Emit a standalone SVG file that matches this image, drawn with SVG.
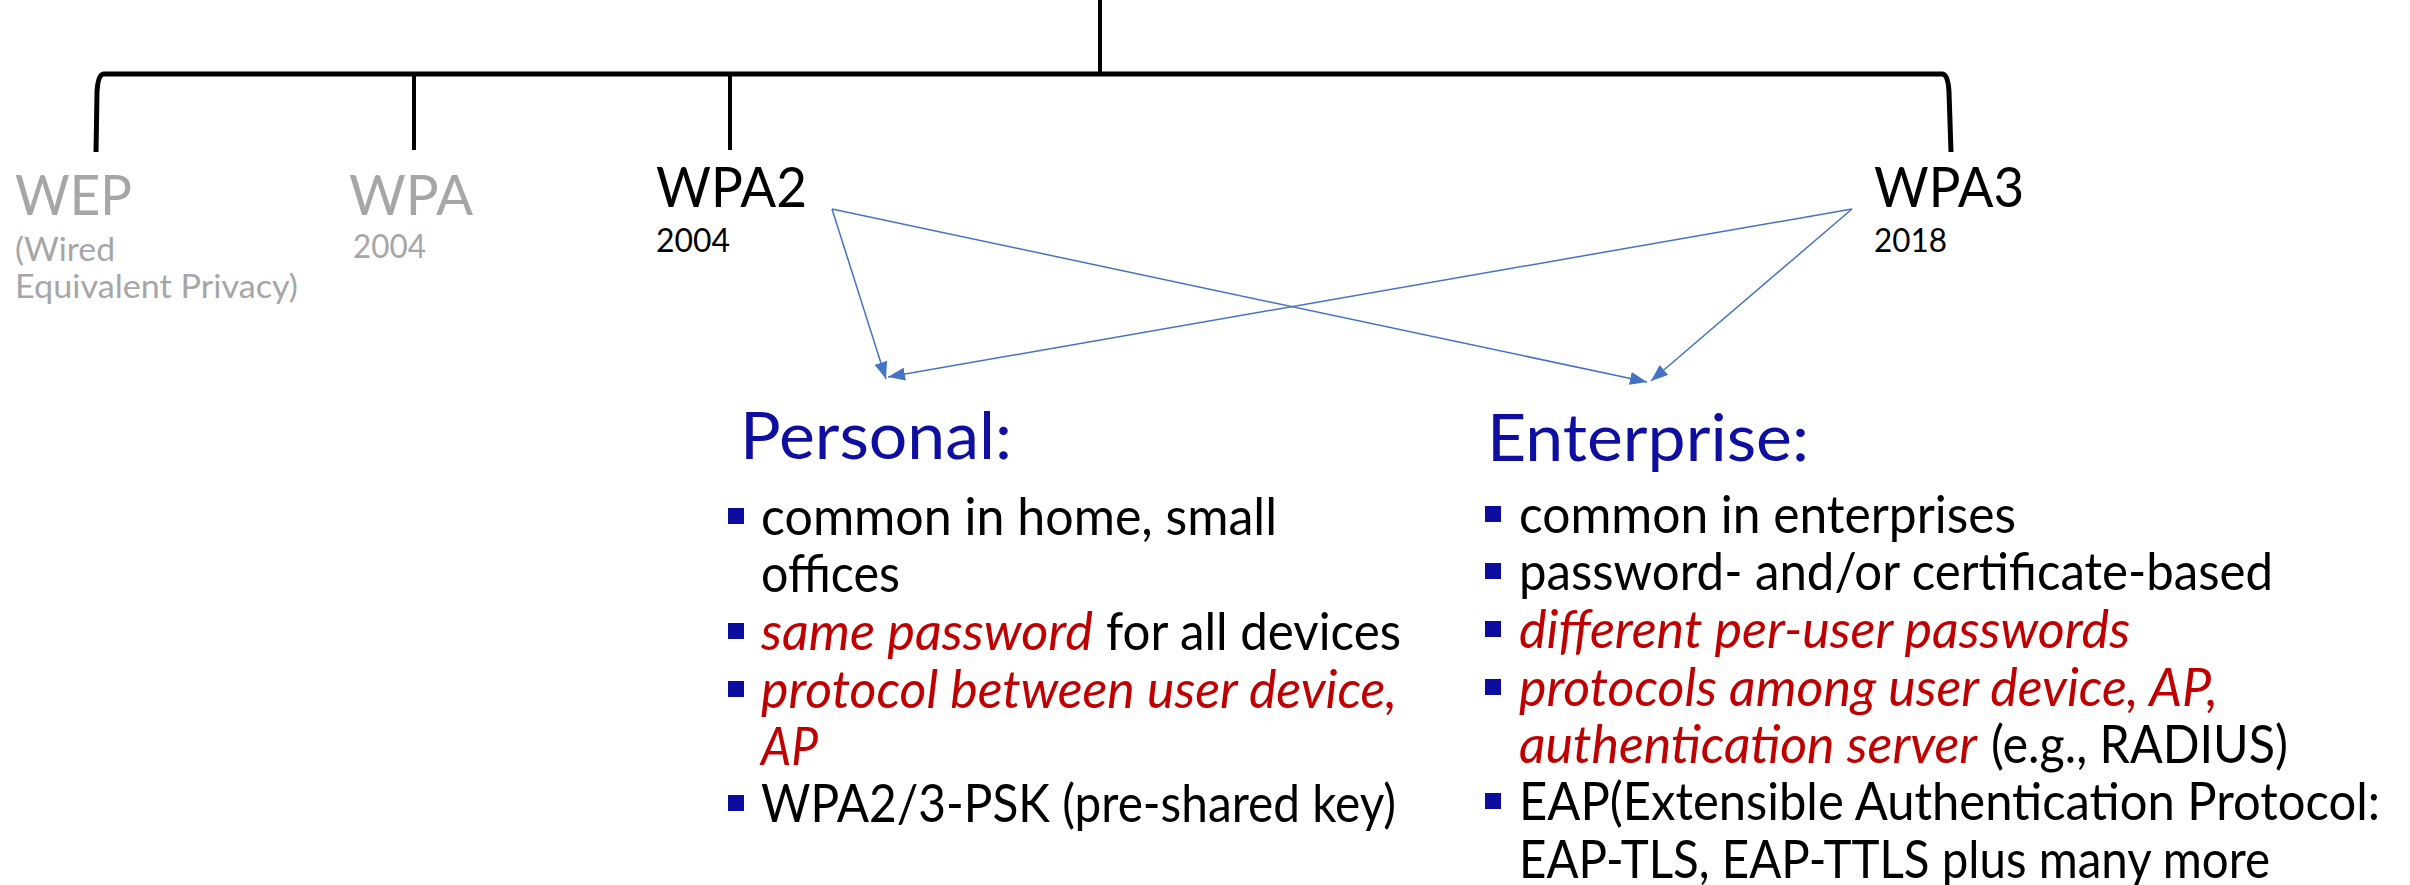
<svg xmlns="http://www.w3.org/2000/svg" width="2410" height="885" viewBox="0 0 2410 885">
<style>
text{font-family:Lato,"Open Sans","Liberation Sans",sans-serif;}
.big{font-size:56px;}
.small{font-size:33px;}
.grey{fill:#A6A6A6;}
.blk{fill:#000000;}
.head{font-size:66px;fill:#0E0EA0;}
.li{font-size:52px;fill:#000000;}
.em{font-style:italic;fill:#C00000;}
.bul{fill:#0C0C9E;}
.br{fill:none;stroke:#000000;stroke-width:5;}
.tick{stroke:#000000;stroke-width:4;}
.arr{stroke:#4472C4;stroke-width:1.5;fill:none;marker-end:url(#ah);}
</style>
<defs>
<marker id="ah" markerUnits="userSpaceOnUse" viewBox="0 0 18 13" markerWidth="18" markerHeight="13" refX="17" refY="6.5" orient="auto">
<path d="M0,0 L17,6.5 L0,13 z" fill="#4472C4"/>
</marker>
</defs>
<rect width="2410" height="885" fill="#FFFFFF"/>
<g id="connectors">
<line class="tick" x1="1100" y1="0" x2="1100" y2="74"/>
<path class="br" d="M96,152 L97,92 Q98,74 104,74 L1942,74 Q1948,74 1949,92 L1951,152"/>
<line class="tick" x1="414" y1="74" x2="414" y2="150"/>
<line class="tick" x1="730" y1="74" x2="730" y2="150"/>
<line class="arr" x1="832" y1="209" x2="886" y2="379"/>
<line class="arr" x1="832" y1="209" x2="1647" y2="382"/>
<line class="arr" x1="1852" y1="209" x2="888" y2="377"/>
<line class="arr" x1="1852" y1="209" x2="1651" y2="381"/>
</g>
<g id="wep">
<text class="big grey" x="15" y="215" textLength="117" lengthAdjust="spacingAndGlyphs">WEP</text>
<text class="small grey" x="15" y="261" textLength="100" lengthAdjust="spacingAndGlyphs">(Wired</text>
<text class="small grey" x="15" y="298" textLength="283" lengthAdjust="spacingAndGlyphs">Equivalent Privacy)</text>
</g>
<g id="wpa">
<text class="big grey" x="349" y="215" textLength="124" lengthAdjust="spacingAndGlyphs">WPA</text>
<text class="small grey" x="353" y="258" textLength="73" lengthAdjust="spacingAndGlyphs">2004</text>
</g>
<g id="wpa2">
<text class="big blk" x="656" y="207" textLength="151" lengthAdjust="spacingAndGlyphs">WPA2</text>
<text class="small blk" x="656" y="252" textLength="74" lengthAdjust="spacingAndGlyphs">2004</text>
</g>
<g id="wpa3">
<text class="big blk" x="1874" y="207" textLength="150" lengthAdjust="spacingAndGlyphs">WPA3</text>
<text class="small blk" x="1874" y="252" textLength="73" lengthAdjust="spacingAndGlyphs">2018</text>
</g>
<g id="personal">
<text class="head" x="740" y="459" textLength="272" lengthAdjust="spacingAndGlyphs">Personal:</text>
<rect class="bul" x="728" y="508" width="16" height="16"/>
<text class="li" x="761" y="535" textLength="516" lengthAdjust="spacingAndGlyphs">common in home, small</text>
<text class="li" x="761" y="592" textLength="139" lengthAdjust="spacingAndGlyphs">offices</text>
<rect class="bul" x="728" y="623" width="16" height="16"/>
<text class="li em" x="761" y="650" textLength="332" lengthAdjust="spacingAndGlyphs">same password</text>
<text class="li" x="1106" y="650" textLength="295" lengthAdjust="spacingAndGlyphs">for all devices</text>
<rect class="bul" x="728" y="681" width="16" height="16"/>
<text class="li em" x="761" y="708" textLength="636" lengthAdjust="spacingAndGlyphs">protocol between user device,</text>
<text class="li em" x="761" y="765" textLength="57" lengthAdjust="spacingAndGlyphs">AP</text>
<rect class="bul" x="728" y="795" width="16" height="16"/>
<text class="li" x="761" y="822" textLength="635" lengthAdjust="spacingAndGlyphs">WPA2/3-PSK (pre-shared key)</text>
</g>
<g id="enterprise">
<text class="head" x="1487" y="461" textLength="322" lengthAdjust="spacingAndGlyphs">Enterprise:</text>
<rect class="bul" x="1485" y="506" width="16" height="16"/>
<text class="li" x="1519" y="533" textLength="497" lengthAdjust="spacingAndGlyphs">common in enterprises</text>
<rect class="bul" x="1485" y="563" width="16" height="16"/>
<text class="li" x="1519" y="590" textLength="754" lengthAdjust="spacingAndGlyphs">password- and/or certificate-based</text>
<rect class="bul" x="1485" y="621" width="16" height="16"/>
<text class="li em" x="1519" y="648" textLength="611" lengthAdjust="spacingAndGlyphs">different per-user passwords</text>
<rect class="bul" x="1485" y="679" width="16" height="16"/>
<text class="li em" x="1519" y="706" textLength="699" lengthAdjust="spacingAndGlyphs">protocols among user device, AP,</text>
<text class="li em" x="1519" y="763" textLength="458" lengthAdjust="spacingAndGlyphs">authentication server</text>
<text class="li" x="1991" y="763" textLength="297" lengthAdjust="spacingAndGlyphs">(e.g., RADIUS)</text>
<rect class="bul" x="1485" y="793" width="16" height="16"/>
<text class="li" x="1519" y="820" textLength="861" lengthAdjust="spacingAndGlyphs">EAP(Extensible Authentication Protocol:</text>
<text class="li" x="1519" y="878" textLength="751" lengthAdjust="spacingAndGlyphs">EAP-TLS, EAP-TTLS plus many more</text>
</g>
</svg>
